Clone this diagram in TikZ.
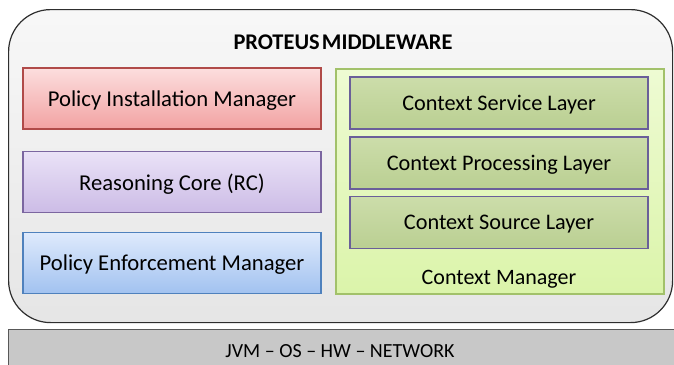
\documentclass[tikz,border=0pt]{standalone}
\usepackage{fontspec}
\setmainfont{Carlito}
\definecolor{frameline}{HTML}{2E2E2E}
\definecolor{pinkline}{HTML}{B04A48}
\definecolor{purpleline}{HTML}{7B66A0}
\definecolor{blueline}{HTML}{4F81BD}
\definecolor{limeline}{HTML}{A2C16A}
\definecolor{layerline}{HTML}{6A5F99}
\definecolor{barfill}{HTML}{C8C8C8}
\definecolor{pinktop}{HTML}{FCDEDE}
\definecolor{pinkbot}{HTML}{F2A2A2}
\definecolor{purpletop}{HTML}{EAE2F7}
\definecolor{purplebot}{HTML}{CCBCE6}
\definecolor{bluetop}{HTML}{DEEAFC}
\definecolor{bluebot}{HTML}{A2C2F0}
\definecolor{limetop}{HTML}{EEFBD3}
\definecolor{limebot}{HTML}{DBF4AA}
\definecolor{layertop}{HTML}{CCDDAA}
\definecolor{layerbot}{HTML}{BACF92}
\newlength{\px}\setlength{\px}{0.75pt}
\tikzset{
  module/.style={draw, line width=1.2pt, minimum width=298\px, minimum height=61\px,
    text depth=0pt, font=\fontsize{17}{20}\selectfont},
  layer/.style={draw=layerline, line width=1.2pt, minimum width=298\px, minimum height=52\px,
    text depth=0pt, top color=layertop, bottom color=layerbot, font=\fontsize{16.7}{20}\selectfont},
}
\begin{document}
\begin{tikzpicture}[x=0.75pt, y=-0.75pt]
\useasboundingbox (0,0) rectangle (674,364);
% platform bar at the bottom
\node[draw=frameline!80, fill=barfill, line width=0.9pt, minimum width=666\px, minimum height=42\px,
      anchor=north west, inner sep=0pt] (platform) at (8,329) {};
\node[font=\fontsize{15}{18}\selectfont] (platformtext) at (340,351) {JVM -- OS -- HW -- NETWORK};
% middleware frame
\node[draw=frameline, line width=0.9pt, rounded corners=42\px, top color=white!97!black, bottom color=white!90!black,
      minimum width=664\px, minimum height=313\px, anchor=north west, inner sep=0pt] (frame) at (8,9) {};
\node[font=\fontsize{16.8}{20}\selectfont\bfseries] (title) at (343,42) {PROTEUS\hspace{0.1em}MIDDLEWARE};
% policy components
\node[module, draw=pinkline, top color=pinktop, bottom color=pinkbot] (pim) at (172,98.5) {Policy Installation Manager};
\node[module, draw=purpleline, top color=purpletop, bottom color=purplebot] (rc) at (172,182) {Reasoning Core (RC)};
\node[module, draw=blueline, top color=bluetop, bottom color=bluebot] (pem) at (172,263) {Policy Enforcement Manager};
% context manager with its layers
\node[draw=limeline, line width=1.2pt, top color=limetop, bottom color=limebot,
      minimum width=328\px, minimum height=225\px, anchor=north west, inner sep=0pt] (cm) at (335,68) {};
\node[font=\fontsize{16.5}{20}\selectfont] (cmlabel) at (499,279) {Context Manager};
\node[layer] (service) at (499,103) {Context Service Layer};
\node[layer] (processing) at (499,163) {Context Processing Layer};
\node[layer] (source) at (499,222.5) {Context Source Layer};
\end{tikzpicture}
\end{document}
